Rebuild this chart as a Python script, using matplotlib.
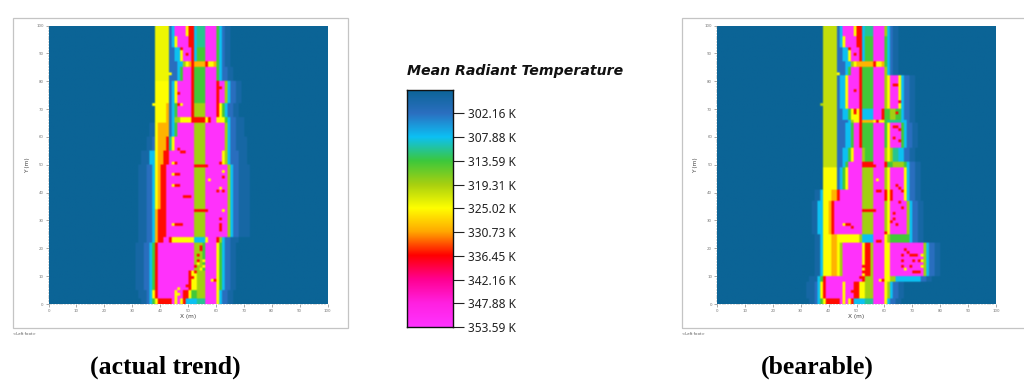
import numpy as np
import matplotlib
matplotlib.use('Agg')
import matplotlib.pyplot as plt
from matplotlib.colors import LinearSegmentedColormap
from matplotlib.patches import Rectangle

# colour scale
tick_values = [302.16, 307.88, 313.59, 319.31, 325.02, 330.73, 336.45, 342.16, 347.88, 353.59]
tick_labels = ['302.16 K', '307.88 K', '313.59 K', '319.31 K', '325.02 K',
               '330.73 K', '336.45 K', '342.16 K', '347.88 K', '353.59 K']
scale_min = 296.44
scale_max = 353.59
scale_colors = ['#0b6496', '#2b6fc0', '#0cc0f4', '#3cc83c', '#a8d010', '#ffff00',
                '#ffa800', '#ff0000', '#ff0090', '#ff20e0', '#ff33ff']

# temperature levels used in the maps
A = 296.5
H = 298.5
D = 302
C = 308
T = 311
G = 314
L = 319
U = 321
V = 324
Y = 325
O = 330
R = 336
P = 353

# bands: y from, y to, then (x end, level) runs from x=0
left_bands = [
    (96, 100, [(38, A), (43, V), (44, D), (45, C), (49, P), (50, Y), (51, R), (52, R), (53, C), (56, T), (60, P), (61, G), (62, C), (63, D), (65, H), (100, A)]),
    (92, 96, [(38, A), (43, V), (44, D), (45, C), (46, Y), (50, P), (51, R), (52, R), (53, C), (56, T), (60, P), (61, G), (62, C), (63, D), (65, H), (100, A)]),
    (87, 92, [(38, A), (43, V), (45, D), (47, C), (48, Y), (51, P), (52, R), (53, C), (56, G), (60, P), (61, G), (62, C), (63, D), (65, H), (100, A)]),
    (85, 87, [(38, A), (43, V), (46, D), (48, C), (49, L), (50, Y), (51, O), (52, R), (56, O), (57, R), (59, Y), (60, O), (61, G), (62, C), (63, D), (65, H), (100, A)]),
    (80, 85, [(38, A), (43, V), (46, D), (47, C), (48, G), (51, P), (52, R), (56, G), (60, P), (61, G), (62, C), (64, D), (66, H), (100, A)]),
    (72, 80, [(38, A), (43, Y), (44, D), (45, C), (46, Y), (51, P), (52, R), (56, G), (60, P), (61, R), (63, P), (64, L), (65, C), (67, D), (69, H), (100, A)]),
    (67, 72, [(38, A), (42, Y), (43, O), (44, D), (45, C), (46, G), (51, P), (52, R), (56, L), (60, P), (61, R), (62, Y), (63, G), (64, C), (66, D), (68, H), (100, A)]),
    (65, 67, [(38, A), (42, Y), (43, O), (44, D), (45, C), (47, L), (51, Y), (52, R), (56, R), (57, Y), (58, R), (60, P), (61, Y), (63, Y), (64, G), (65, C), (67, D), (70, H), (100, A)]),
    (60, 65, [(36, A), (38, H), (39, Y), (43, O), (44, D), (45, C), (46, G), (52, P), (56, L), (63, P), (64, L), (65, C), (67, D), (70, H), (100, A)]),
    (55, 60, [(35, A), (37, H), (38, D), (39, Y), (42, O), (43, R), (44, T), (45, Y), (52, P), (56, L), (63, P), (64, L), (65, C), (67, D), (71, H), (100, A)]),
    (50, 55, [(33, A), (36, H), (38, C), (39, Y), (41, O), (43, R), (52, P), (56, L), (62, P), (63, Y), (64, L), (65, C), (68, D), (71, H), (100, A)]),
    (34, 50, [(32, A), (35, H), (37, D), (38, C), (39, Y), (40, O), (42, R), (52, P), (56, L), (64, P), (65, L), (66, C), (68, D), (72, H), (100, A)]),
    (24, 34, [(32, A), (35, H), (37, D), (38, C), (39, O), (42, R), (52, P), (56, L), (64, P), (65, L), (66, C), (68, D), (72, H), (100, A)]),
    (22, 24, [(32, A), (35, H), (37, D), (38, C), (39, O), (41, R), (43, P), (44, R), (52, Y), (56, C), (57, Y), (60, P), (61, R), (62, L), (63, C), (65, D), (68, H), (100, A)]),
    (12, 22, [(31, A), (34, H), (36, D), (37, C), (38, G), (39, R), (52, P), (53, L), (55, L), (56, G), (60, P), (61, Y), (62, G), (63, C), (65, D), (67, H), (100, A)]),
    (5, 12, [(31, A), (34, H), (36, D), (37, C), (38, G), (39, R), (50, P), (51, R), (53, Y), (56, L), (60, P), (61, Y), (62, G), (63, C), (65, D), (67, H), (100, A)]),
    (2, 5, [(32, A), (35, H), (36, D), (37, C), (38, Y), (39, R), (45, P), (46, Y), (48, P), (50, R), (51, Y), (53, G), (56, L), (60, P), (61, Y), (62, C), (64, D), (66, H), (100, A)]),
    (0, 2, [(33, A), (35, H), (36, D), (37, C), (38, G), (39, Y), (41, R), (44, R), (45, P), (46, Y), (47, P), (48, Y), (49, R), (53, C), (56, T), (60, P), (61, Y), (62, C), (64, D), (66, H), (100, A)]),
]

right_bands = [
    (96, 100, [(38, A), (43, U), (44, D), (45, C), (49, P), (50, Y), (51, R), (52, R), (53, C), (56, T), (60, P), (61, L), (62, C), (63, D), (65, H), (100, A)]),
    (92, 96, [(38, A), (43, U), (44, D), (45, C), (46, Y), (50, P), (51, R), (52, R), (53, C), (56, G), (60, P), (61, G), (62, C), (63, D), (65, H), (100, A)]),
    (87, 92, [(38, A), (43, U), (45, D), (47, C), (48, Y), (51, P), (52, R), (53, C), (56, G), (60, P), (61, G), (62, C), (63, D), (65, H), (100, A)]),
    (85, 87, [(38, A), (43, U), (46, D), (48, C), (49, L), (50, Y), (52, O), (56, O), (57, R), (59, Y), (60, O), (61, G), (62, C), (63, D), (65, H), (100, A)]),
    (82, 85, [(38, A), (43, U), (46, D), (47, C), (48, G), (51, P), (52, R), (56, G), (60, P), (61, L), (62, C), (63, D), (65, H), (100, A)]),
    (70, 82, [(38, A), (43, U), (44, D), (46, C), (47, Y), (51, P), (52, R), (56, G), (60, P), (61, L), (62, Y), (65, P), (66, Y), (67, C), (69, D), (71, H), (100, A)]),
    (66, 70, [(38, A), (43, U), (45, D), (47, C), (48, G), (51, Y), (52, R), (56, C), (59, P), (60, R), (62, G), (64, L), (66, G), (67, C), (69, D), (71, H), (100, A)]),
    (65, 66, [(38, A), (43, U), (47, D), (48, C), (49, L), (51, Y), (52, R), (56, O), (57, Y), (58, R), (60, Y), (61, G), (66, T), (68, C), (69, D), (71, H), (100, A)]),
    (56, 65, [(38, A), (43, U), (46, D), (48, C), (49, G), (51, P), (52, R), (56, G), (60, P), (61, G), (62, Y), (66, P), (67, G), (68, C), (70, D), (72, H), (100, A)]),
    (51, 56, [(38, A), (43, U), (45, D), (47, C), (48, G), (49, Y), (52, P), (53, L), (56, G), (60, P), (61, L), (62, Y), (63, L), (65, T), (67, C), (69, D), (71, H), (100, A)]),
    (49, 51, [(38, A), (43, U), (45, D), (46, C), (47, G), (52, P), (56, R), (60, P), (61, R), (63, G), (67, L), (68, G), (69, C), (71, D), (73, H), (100, A)]),
    (41, 49, [(38, A), (43, Y), (44, D), (45, C), (46, G), (47, Y), (52, P), (56, L), (60, P), (61, L), (62, Y), (67, P), (68, Y), (69, C), (71, D), (73, H), (100, A)]),
    (37, 41, [(35, A), (37, H), (38, C), (41, Y), (43, O), (44, R), (52, P), (56, L), (60, P), (61, R), (62, Y), (63, R), (67, P), (68, Y), (69, C), (71, D), (73, H), (100, A)]),
    (25, 37, [(34, A), (36, H), (38, C), (40, Y), (41, O), (42, R), (52, P), (56, L), (60, P), (61, L), (62, Y), (68, P), (69, L), (70, C), (72, D), (74, H), (100, A)]),
    (22, 25, [(35, A), (37, H), (38, C), (41, Y), (43, O), (44, Y), (51, Y), (52, L), (56, C), (60, P), (61, Y), (62, L), (69, G), (70, C), (72, D), (74, H), (100, A)]),
    (10, 22, [(35, A), (37, H), (38, C), (41, Y), (43, O), (44, Y), (45, L), (52, P), (53, Y), (55, R), (56, L), (60, P), (62, Y), (74, P), (75, L), (76, C), (78, D), (80, H), (100, A)]),
    (8, 10, [(33, A), (36, H), (37, C), (38, G), (39, R), (52, P), (53, R), (56, L), (60, P), (62, Y), (64, L), (70, C), (73, C), (75, D), (77, H), (100, A)]),
    (2, 8, [(32, A), (35, H), (36, D), (37, C), (38, Y), (39, R), (45, P), (46, Y), (49, P), (51, R), (53, Y), (56, L), (60, P), (61, Y), (62, L), (63, C), (65, D), (67, H), (100, A)]),
    (0, 2, [(33, A), (35, H), (36, D), (37, C), (38, G), (39, Y), (41, R), (44, R), (45, P), (46, Y), (47, P), (48, Y), (49, R), (53, C), (56, T), (60, P), (61, Y), (62, C), (64, D), (66, H), (100, A)]),
]

# single hot cells: x, y, level
left_spots = [(43, 82, Y), (37, 71, Y), (47, 91, R), (49, 89, R), (46, 71, R), (47, 71, Y), (46, 75, R), (61, 77, R),
              (44, 50, Y), (45, 50, R), (44, 46, Y), (45, 46, R), (46, 46, R), (44, 42, Y), (45, 42, R), (46, 42, R),
              (48, 38, R), (49, 38, R), (50, 38, R), (44, 28, Y), (45, 28, R), (46, 28, R), (47, 28, R),
              (61, 50, R), (62, 47, Y), (62, 45, R), (61, 41, Y), (60, 40, R), (62, 40, R), (62, 33, Y), (61, 28, R),
              (61, 27, R), (61, 26, R), (61, 30, R), (57, 44, Y), (46, 55, R), (47, 54, R), (48, 54, R),
              (54, 20, R), (54, 19, R), (53, 17, R), (53, 15, R), (52, 13, R), (52, 11, R), (51, 9, R), (50, 7, R), (49, 6, R), (48, 4, R),
              (46, 5, Y), (46, 3, Y), (53, 14, Y), (54, 12, Y), (55, 15, Y), (55, 13, Y), (59, 8, R), (58, 8, Y), (60, 22, R)]
right_spots = [(43, 82, Y), (37, 71, L), (49, 76, R), (49, 68, R), (49, 69, R), (47, 91, R), (49, 89, R),
               (63, 78, R), (64, 78, R), (65, 72, R), (64, 68, R), (63, 63, R), (64, 63, R), (65, 62, R), (63, 59, R), (65, 58, R),
               (64, 42, R), (65, 41, R), (66, 40, R), (65, 36, R), (66, 34, R), (63, 32, R), (63, 30, R), (62, 29, R), (64, 28, R),
               (67, 19, R), (68, 18, R), (66, 17, R), (69, 17, R), (70, 17, R), (71, 17, R), (66, 15, R), (70, 15, R), (72, 15, R),
               (66, 13, R), (69, 13, R), (67, 12, Y), (70, 11, R), (71, 11, R), (72, 11, R), (73, 13, Y), (73, 15, Y), (73, 17, Y),
               (54, 20, R), (54, 19, R), (53, 17, R), (53, 15, R), (52, 13, R), (52, 11, R), (51, 9, R), (50, 7, R), (49, 6, R), (48, 4, R),
               (57, 22, R), (58, 22, R), (57, 40, R), (58, 40, R), (60, 25, R), (46, 28, R), (47, 28, R), (45, 28, Y), (48, 27, R),
               (59, 8, R), (58, 8, Y), (57, 44, Y)]
# long thin lines: x from, x to, y, level
left_lines = [(52, 57, 49, R), (52, 57, 33, R), (52, 56, 65, R)]
right_lines = [(52, 57, 49, R), (52, 57, 33, R)]

x_ticks = [0, 10, 20, 30, 40, 50, 60, 70, 80, 90, 100]


def build_grid(bands, spots, lines):
    grid = np.full((100, 100), A)
    for y0, y1, runs in bands:
        x0 = 0
        for x1, level in runs:
            grid[y0:y1, x0:x1] = level
            x0 = x1
    for x0, x1, y, level in lines:
        grid[y, x0:x1] = level
    for x, y, level in spots:
        grid[y, x] = level
    return grid


def px_axes(fig, x0, y0, x1, y1):
    # pixel box measured from the top left of the picture
    return fig.add_axes([x0 / 1024, 1 - y1 / 392, (x1 - x0) / 1024, (y1 - y0) / 392])


def draw_map(fig, box, frame, bands, spots, lines, foot_x):
    fig.add_artist(Rectangle((frame[0] / 1024, 1 - frame[3] / 392),
                             (frame[2] - frame[0]) / 1024, (frame[3] - frame[1]) / 392,
                             transform=fig.transFigure, fill=False, ec='#c4c4c4', lw=0.9))
    ax = px_axes(fig, *box)
    ax.imshow(build_grid(bands, spots, lines), origin='lower', extent=[0, 100, 0, 100], aspect='auto',
              cmap=cmap, vmin=scale_min, vmax=scale_max, interpolation='hanning', interpolation_stage='rgba')
    for s in ax.spines.values():
        s.set_visible(False)
    ax.set_xticks(x_ticks)
    ax.set_yticks(x_ticks)
    ax.set_xticks(np.arange(0, 101), minor=True)
    ax.set_yticks(np.arange(0, 101), minor=True)
    ax.tick_params(which='major', length=2, width=0.4, labelsize=2.8, pad=1.5, colors='#666666', labelcolor='#777777')
    ax.tick_params(which='minor', length=1, width=0.3, colors='#666666')
    ax.set_xlabel('X (m)', fontsize=4.2, labelpad=1, color='#444444')
    ax.set_ylabel('Y (m)', fontsize=4.2, labelpad=4.5, color='#444444')
    fig.text(foot_x / 1024, 1 - 334 / 392, '<Left foot>', fontsize=2.8, color='#555555', va='center')


cmap = LinearSegmentedColormap.from_list('mrt', scale_colors, N=512)

fig = plt.figure(figsize=(10.24, 3.92), dpi=100)

draw_map(fig, (48.5, 25.5, 327.5, 304), (12.5, 17.5, 348, 328), left_bands, left_spots, left_lines, 13)
draw_map(fig, (717, 25.5, 996, 304), (681.5, 17.5, 1030, 328), right_bands, right_spots, right_lines, 682)

# colour bar
cax = px_axes(fig, 406.5, 89.5, 453, 327)
values = np.linspace(scale_min, scale_max, 256).reshape(-1, 1)
cax.imshow(values, extent=[0, 1, scale_max, scale_min], aspect='auto', cmap=cmap, vmin=scale_min, vmax=scale_max)
cax.set_xticks([])
cax.yaxis.tick_right()
cax.set_yticks(tick_values)
cax.set_yticklabels(tick_labels, fontfamily='Noto Sans')
cax.tick_params(axis='y', length=8, width=0.8, labelsize=8.6, pad=2.5, colors='#222222')
for s in cax.spines.values():
    s.set_linewidth(1.0)
    s.set_color('#111111')

fig.text(515 / 1024, 1 - 71.5 / 392, 'Mean Radiant Temperature', fontsize=10.2, fontweight='bold',
         fontstyle='italic', ha='center', va='center', color='#111111')

# captions
serif = 'Liberation Serif'
fig.text(165 / 1024, 1 - 367 / 392, '(actual trend)', family=serif, fontweight='bold', fontsize=18.5,
         ha='center', va='center', color='black')
fig.text(817 / 1024, 1 - 367 / 392, '(bearable)', family=serif, fontweight='bold', fontsize=18.5,
         ha='center', va='center', color='black')

fig.savefig('out.png', dpi=100)
